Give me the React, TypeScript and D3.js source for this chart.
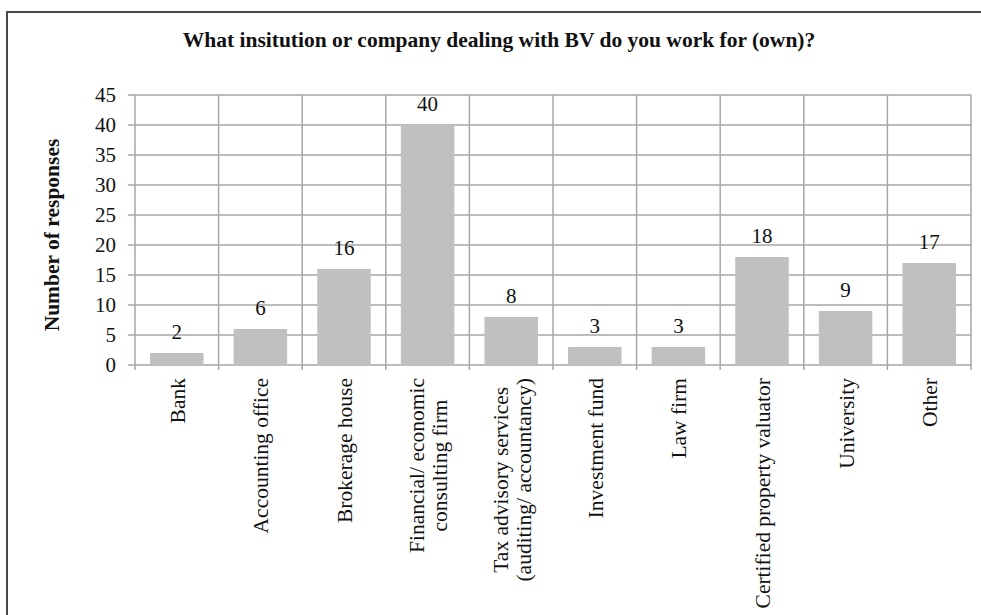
import React, { useEffect, useRef } from 'react';
import * as d3 from 'd3';

const categories = [
  ['Bank'],
  ['Accounting office'],
  ['Brokerage house'],
  ['Financial/ economic', 'consulting firm'],
  ['Tax advisory services', '(auditing/ accountancy)'],
  ['Investment fund'],
  ['Law firm'],
  ['Certified property valuator'],
  ['University'],
  ['Other'],
];
const responses = [2, 6, 16, 40, 8, 3, 3, 18, 9, 17];
const yTicks = [0, 5, 10, 15, 20, 25, 30, 35, 40, 45];
const title = 'What insitution or company dealing with BV do you work for (own)?';
const yTitle = 'Number of responses';

export default function App() {
  const svgRef = useRef<SVGSVGElement>(null);

  useEffect(() => {
    if (!svgRef.current) return;
    const svg = d3.select(svgRef.current);
    svg.selectAll('*').remove();

    const W = 981;
    const H = 615;
    const margin = { top: 95, right: 10, bottom: 250, left: 135 };
    const width = W - margin.left - margin.right;
    const height = H - margin.top - margin.bottom;
    const font = '"Liberation Serif", "Times New Roman", serif';
    const gridColor = '#a6a6a6';
    const fs = 21;

    svg.append('rect').attr('width', W).attr('height', H).attr('fill', '#fff');
    svg.append('rect')
      .attr('x', 7).attr('y', 12)
      .attr('width', W + 10).attr('height', H + 10)
      .attr('fill', 'none').attr('stroke', '#4a4a4a').attr('stroke-width', 2);

    svg.append('text')
      .attr('x', 499).attr('y', 47)
      .attr('text-anchor', 'middle')
      .attr('font-family', font).attr('font-weight', 'bold').attr('font-size', 21.5)
      .attr('fill', '#111')
      .text(title);

    const idx = categories.map((_, i) => String(i));
    const x = d3.scaleBand().domain(idx).range([0, width]).padding(0);
    const xBar = d3.scaleBand().domain(idx).range([0, width]).paddingInner(0.36).paddingOuter(0.18);
    const y = d3.scaleLinear().domain([0, 45]).range([height, 0]);

    const g = svg.append('g').attr('transform', `translate(${margin.left},${margin.top})`);

    // horizontal gridlines + left ticks
    g.selectAll('line.hgrid')
      .data(yTicks)
      .enter()
      .append('line')
      .attr('x1', -7).attr('x2', width)
      .attr('y1', d => y(d)).attr('y2', d => y(d))
      .attr('stroke', gridColor).attr('stroke-width', 1.5);

    // vertical gridlines at category boundaries (with tick below axis)
    const bounds = idx.map(d => x(d)!).concat([width]);
    g.selectAll('line.vgrid')
      .data(bounds)
      .enter()
      .append('line')
      .attr('x1', d => d).attr('x2', d => d)
      .attr('y1', 0).attr('y2', height + 5)
      .attr('stroke', gridColor).attr('stroke-width', 1.5);

    g.selectAll('text.ytick')
      .data(yTicks)
      .enter()
      .append('text')
      .attr('x', -19).attr('y', d => y(d)).attr('dy', '0.35em')
      .attr('text-anchor', 'end')
      .attr('font-family', font).attr('font-size', fs).attr('fill', '#111')
      .text(d => d);

    g.selectAll('rect.bar')
      .data(responses)
      .enter()
      .append('rect')
      .attr('x', (_, i) => xBar(String(i))!)
      .attr('y', d => y(d))
      .attr('width', xBar.bandwidth())
      .attr('height', d => height - y(d))
      .attr('fill', '#c0c0c0');

    g.selectAll('text.val')
      .data(responses)
      .enter()
      .append('text')
      .attr('x', (_, i) => x(String(i))! + x.bandwidth() / 2)
      .attr('y', d => y(d) - 14.5)
      .attr('text-anchor', 'middle')
      .attr('font-family', font).attr('font-size', fs).attr('fill', '#111')
      .text(d => d);

    // category labels, rotated, multi-line centred
    const lineGap = 23;
    categories.forEach((lines, i) => {
      const cx = x(String(i))! + x.bandwidth() / 2;
      const lg = g.append('g');
      const texts = lines.map(l =>
        lg.append('text')
          .attr('font-family', font).attr('font-size', 21.5).attr('fill', '#111')
          .attr('text-anchor', 'middle')
          .text(l)
      );
      const maxW = d3.max(texts, t => (t.node() as SVGTextElement).getComputedTextLength()) || 0;
      const ty = height + 13 + maxW / 2;
      texts.forEach((t, j) => {
        const off = (j - (lines.length - 1) / 2) * lineGap;
        t.attr('transform', `translate(${cx + off + 8},${ty}) rotate(-90)`);
      });
    });

    svg.append('text')
      .attr('transform', `translate(${59},${margin.top + height / 2 + 5}) rotate(-90)`)
      .attr('text-anchor', 'middle')
      .attr('font-family', font).attr('font-weight', 'bold').attr('font-size', 21.5)
      .attr('fill', '#111')
      .text(yTitle);
  }, []);

  return (
    <svg
      ref={svgRef}
      width={981}
      height={615}
      style={{ position: 'absolute', left: 0, top: 0 }}
    />
  );
}
